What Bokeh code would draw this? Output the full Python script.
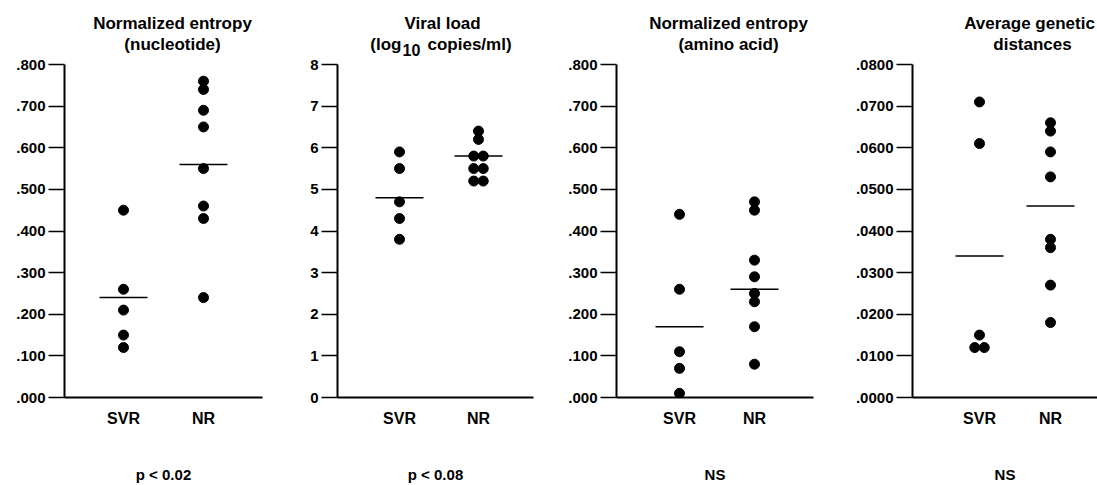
from collections import Counter
from bokeh.plotting import figure
from bokeh.layouts import row
from bokeh.models import Range1d, FixedTicker, CustomJSTickFormatter, Label
from bokeh.embed import file_html
from bokeh.resources import INLINE

# ---------------- data ----------------
groups = ["SVR", "NR"]

nuc_svr = [0.45, 0.26, 0.21, 0.15, 0.12]
nuc_nr = [0.76, 0.74, 0.69, 0.65, 0.55, 0.46, 0.43, 0.24]
nuc_mean = [0.24, 0.56]

vl_svr = [5.9, 5.5, 4.7, 4.3, 3.8]
vl_nr = [6.4, 6.2, 5.8, 5.8, 5.5, 5.5, 5.2, 5.2]
vl_mean = [4.8, 5.8]

aa_svr = [0.44, 0.26, 0.11, 0.07, 0.01]
aa_nr = [0.47, 0.45, 0.33, 0.29, 0.25, 0.23, 0.17, 0.08]
aa_mean = [0.17, 0.26]

gd_svr = [0.071, 0.061, 0.015, 0.012, 0.012]
gd_nr = [0.066, 0.064, 0.059, 0.053, 0.038, 0.036, 0.027, 0.018]
gd_mean = [0.034, 0.046]

frac_ticks = [0.0, 0.1, 0.2, 0.3, 0.4, 0.5, 0.6, 0.7, 0.8]
frac_labels = [".000", ".100", ".200", ".300", ".400", ".500", ".600", ".700", ".800"]
vl_ticks = [0, 1, 2, 3, 4, 5, 6, 7, 8]
vl_labels = ["0", "1", "2", "3", "4", "5", "6", "7", "8"]
gd_ticks = [0.0, 0.01, 0.02, 0.03, 0.04, 0.05, 0.06, 0.07, 0.08]
gd_labels = [".0000", ".0100", ".0200", ".0300", ".0400", ".0500", ".0600", ".0700", ".0800"]

title_line1 = ["Normalized entropy", "Viral load", "Normalized entropy", "Average genetic"]
title_line2 = ["(nucleotide)", None, "(amino acid)", "distances"]
vl_unit = ["(log", "10", "copies/ml)"]
pvals = ["p < 0.02", "p < 0.08", "NS", "NS"]

# ---------------- layout (pixels) ----------------
FONT = "Liberation Sans"
FIG_H = 485
AXIS_TOP = 64       # pixel row of the top tick
FRAME_BOTTOM = 397  # pixel row of the x axis
BOTTOM = FIG_H - FRAME_BOTTOM

panels = [
    dict(svr=nuc_svr, nr=nuc_nr, mean=nuc_mean, ticks=frac_ticks, labels=frac_labels, ymax=0.8,
         fig_w=285, left=64, frame_w=198, svr_px=59, nr_px=139, t1_px=108, t2_px=108),
    dict(svr=vl_svr, nr=vl_nr, mean=vl_mean, ticks=vl_ticks, labels=vl_labels, ymax=8,
         fig_w=275, left=52, frame_w=196, svr_px=62, nr_px=141, t1_px=105, t2_px=105),
    dict(svr=aa_svr, nr=aa_nr, mean=aa_mean, ticks=frac_ticks, labels=frac_labels, ymax=0.8,
         fig_w=280, left=56, frame_w=197, svr_px=63, nr_px=138, t1_px=112, t2_px=112),
    dict(svr=gd_svr, nr=gd_nr, mean=gd_mean, ticks=gd_ticks, labels=gd_labels, ymax=0.08,
         fig_w=257, left=72, frame_w=185, svr_px=67, nr_px=138, t1_px=117, t2_px=120),
]

label_fmt_code = """
let best = -1;
for (let i = 0; i < tvals.length; i++) {
  if (Math.abs(tvals[i] - tick) < 1e-9 * Math.max(1, Math.abs(tick))) { best = i; }
}
return best >= 0 ? tlabels[best] : "";
"""


def dodge(values, center, spacing):
    counts = Counter(values)
    seen = Counter()
    xs = []
    for v in values:
        n = counts[v]
        i = seen[v]
        seen[v] += 1
        xs.append(center + (i - (n - 1) / 2) * spacing)
    return xs


figs = []
for k, P in enumerate(panels):
    ppu = P["nr_px"] - P["svr_px"]
    a = 1 - P["svr_px"] / ppu
    b = a + P["frame_w"] / ppu

    def px(v, a=a, ppu=ppu):
        return a + v / ppu

    ymax = P["ymax"]
    ytop = ymax * FRAME_BOTTOM / (FRAME_BOTTOM - AXIS_TOP)

    right = P["fig_w"] - P["left"] - P["frame_w"]
    p = figure(width=P["fig_w"], height=FIG_H, output_backend="svg", toolbar_location=None,
               title=None, x_range=Range1d(a, b), y_range=Range1d(0, ytop),
               min_border_left=P["left"], min_border_right=right,
               min_border_top=0, min_border_bottom=BOTTOM)
    p.outline_line_color = None
    p.background_fill_color = "white"
    p.border_fill_color = "white"
    p.xgrid.visible = False
    p.ygrid.visible = False

    # y axis
    ya = p.yaxis[0]
    ya.bounds = (0, ymax)
    ya.ticker = FixedTicker(ticks=P["ticks"])
    ya.formatter = CustomJSTickFormatter(args=dict(tvals=P["ticks"], tlabels=P["labels"]), code=label_fmt_code)
    ya.minor_tick_line_color = None
    ya.major_tick_in = 0
    ya.major_tick_out = 16
    ya.major_tick_line_width = 1.5
    ya.axis_line_width = 2
    ya.major_label_standoff = 3
    ya.major_label_text_font = FONT
    ya.major_label_text_font_style = "bold"
    ya.major_label_text_font_size = "15px"
    ya.major_label_text_color = "black"
    ya.axis_line_color = "black"
    ya.major_tick_line_color = "black"

    # x axis (group labels + p-value as axis label)
    xa = p.xaxis[0]
    xa.ticker = FixedTicker(ticks=[1, 2])
    xa.formatter = CustomJSTickFormatter(args=dict(tvals=[1, 2], tlabels=groups), code=label_fmt_code)
    xa.minor_tick_line_color = None
    xa.major_tick_line_color = None
    xa.major_tick_in = 0
    xa.major_tick_out = 0
    xa.axis_line_width = 2
    xa.axis_line_color = "black"
    xa.major_label_standoff = 12
    xa.major_label_text_font = FONT
    xa.major_label_text_font_style = "bold"
    xa.major_label_text_font_size = "16px"
    xa.major_label_text_color = "black"
    xa.axis_label = pvals[k]
    xa.axis_label_standoff = 36
    xa.axis_label_text_font = FONT
    xa.axis_label_text_font_style = "bold"
    xa.axis_label_text_font_size = "15px"
    xa.axis_label_text_color = "black"

    # points
    sp = 9.5 / ppu
    xs = dodge(P["svr"], 1, sp) + dodge(P["nr"], 2, sp)
    ys = P["svr"] + P["nr"]
    p.scatter(x=xs, y=ys, size=10, fill_color="black", line_color="black")

    # means
    p.scatter(x=[1, 2], y=P["mean"], marker="dash", size=48, line_color="black", line_width=1.5)

    # titles (inside the extended frame, above the axis top)
    common = dict(text_font=FONT, text_font_style="bold", text_color="black", text_baseline="middle")
    p.add_layout(Label(x=px(P["t1_px"]), y=ymax, y_offset=41, text=title_line1[k], text_align="center",
                       text_font_size="17px", **common))
    if title_line2[k] is not None:
        p.add_layout(Label(x=px(P["t2_px"]), y=ymax, y_offset=20, text=title_line2[k], text_align="center",
                           text_font_size="17px", **common))
    else:
        p.add_layout(Label(x=px(64), y=ymax, y_offset=20, text=vl_unit[0], text_align="right",
                           text_font_size="17px", **common))
        p.add_layout(Label(x=px(65), y=ymax, y_offset=15, text=vl_unit[1], text_align="left",
                           text_font_size="16px", **common))
        p.add_layout(Label(x=px(90), y=ymax, y_offset=20, text=vl_unit[2], text_align="left",
                           text_font_size="17px", **common))

    figs.append(p)

layout = row(*figs, spacing=0)
open("out.html", "w").write(file_html(layout, INLINE))
